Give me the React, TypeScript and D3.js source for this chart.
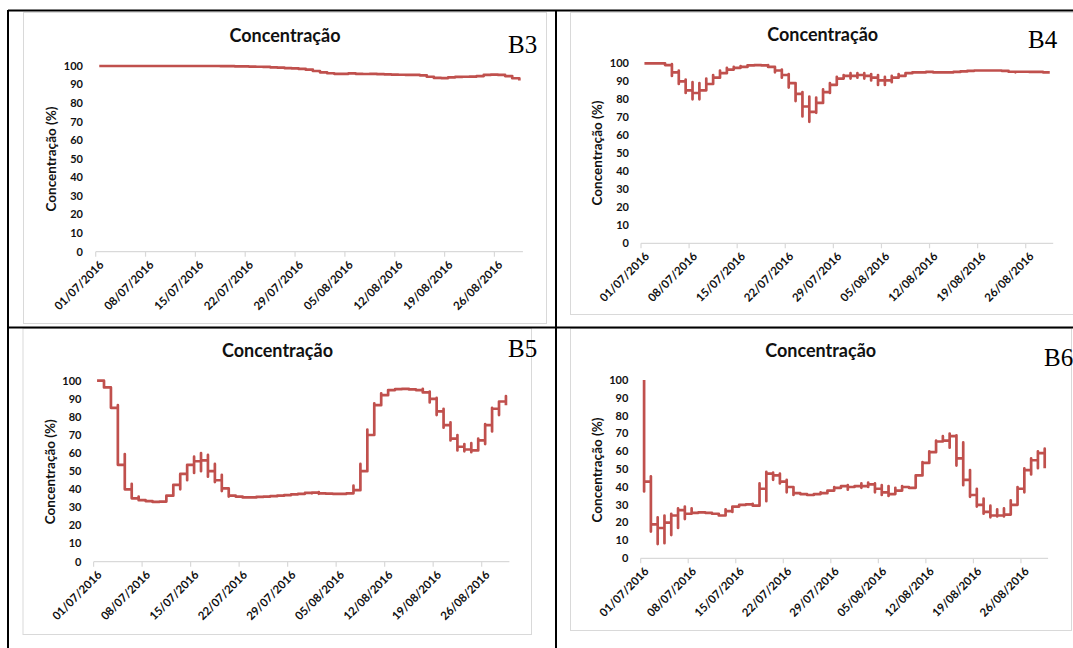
import * as d3 from "d3";

// date axis: weekly tick labels and the axis span (Excel date axis, one slot per day)
const tickLabels = [
  "01/07/2016",
  "08/07/2016",
  "15/07/2016",
  "22/07/2016",
  "29/07/2016",
  "05/08/2016",
  "12/08/2016",
  "19/08/2016",
  "26/08/2016",
];
const axisStart = "01/07/2016";
const axisEnd = "30/08/2016";
const yTicks = [0, 10, 20, 30, 40, 50, 60, 70, 80, 90, 100];

const chartTitle = "Concentração";
const yTitle = "Concentração (%)";

// one entry per day (01/07 ... 29/08); each day lists the readings the line runs
// through on that day, in order (hourly readings all fall on the same date)
const b3Days = [
  [100], [100], [100], [100], [100], [100], [100], [100], [100], [100],
  [100], [100], [100], [100], [100], [100], [100], [99.9], [99.9], [99.8],
  [99.8], [99.7], [99.6], [99.5], [99.3], [99.1], [98.9], [98.7], [98.4], [98.0],
  [97.3], [96.6], [96.1], [95.8], [95.8], [96.0], [95.8], [95.7], [95.8], [95.6],
  [95.5], [95.4], [95.3], [95.2], [95.2], [95.0], [94.2], [93.6], [93.5], [93.9],
  [94.1], [94.2], [94.3], [94.6], [95.2], [95.4], [95.2], [94.6], [93.4], [92.2],
];

const b4Days = [
  [100], [100], [100], [99], [99.5, 93, 95],
  [96, 88.5, 90], [91, 83.5, 85], [89.5, 80, 83.5], [89, 80, 85], [91.5, 85, 88.5],
  [93.5, 89, 92], [96, 94.5], [97.5, 96.5], [98, 97.5], [98.5, 98],
  [98.8], [99], [98.8], [99, 98], [98, 95, 96],
  [96.5, 92, 93.5], [94, 86.5, 89], [89, 79, 83], [84, 70.5, 76], [81.5, 67.5, 73],
  [81, 72.5, 78], [85.5, 78, 84], [89, 83.5, 88], [92.5, 88.5, 91.5], [93.5, 92, 93],
  [94.5, 91.5, 93], [94.5, 92, 93.5], [94.5, 91.5, 93], [94, 90.5, 92], [93.5, 88, 90.5],
  [92.5, 88, 90.5], [93, 89.5, 92], [94, 93], [94.5], [95],
  [95], [95.2], [95], [95], [95],
  [95.2], [95.5], [95.8], [96], [96],
  [96], [96], [95.8], [95.3], [95, 95.3],
  [95.3], [95.2], [95.2], [95], [95],
];

const b5Days = [
  [100], [96.3], [85], [86.5, 53.5], [59.5, 40],
  [43, 35], [36, 34], [33.5], [33], [33.2],
  [36.5], [42.5], [40, 48.5], [45, 53.5], [49, 58, 55.5],
  [50, 60, 56], [59, 47, 50], [54, 44, 45], [48, 39, 40.5], [38.5, 36, 36.5],
  [36], [35.5], [35.5], [35.8], [36],
  [36.2], [36.5], [36.8], [37.2], [37.5],
  [38], [37.8, 38.2], [37.5, 38.5, 37.8], [37.6], [37.5],
  [37.5], [37.8], [42, 39.5], [54, 50], [73, 70],
  [87.5, 86.5], [93, 92], [94.8], [95.3], [95.5],
  [95.2], [94.8], [95.5, 93.5], [94, 88, 90], [90.5, 81, 83],
  [84.5, 74, 75.5], [77, 67, 68], [70, 61.5, 63.5], [65, 61, 62], [65.5, 60.5, 61.5],
  [68, 62, 67], [76, 65, 75.5], [85, 72, 84.5], [88.5, 81, 88.5], [91.5, 86.5],
];

const b6Days = [
  [100, 37.5, 43], [46, 15, 19], [23, 8, 17], [24, 8.5, 20], [25, 13, 24],
  [28, 17, 27], [29, 22, 25], [28, 25.5], [25.8], [25.5],
  [25], [24], [27.5, 26.5], [28.5, 26, 29], [30],
  [30.2], [30.5, 29.5], [42, 39], [32, 48.5, 47.5], [48, 44, 46.5],
  [47.5, 42, 43], [44, 37, 40], [40, 35.5, 36.5], [36], [35.5],
  [36], [37, 36.5], [38], [40, 38.5, 39.5], [40.5],
  [41, 38.5, 40], [40.5], [42, 39.5, 40.5], [42.5, 40, 41.5], [42, 37, 39],
  [41, 35.5, 37], [40.5, 35, 36], [39.5, 36, 38], [40.5, 40], [39.5],
  [46.5], [54, 51.5, 53.5], [60, 57, 59.5], [66, 63, 65.5], [68.5, 66],
  [70, 62, 68.5], [69, 52, 56], [65, 41, 44], [49.5, 34.5, 35.5], [39, 29, 30],
  [33.5, 25, 26], [29.5, 23, 24], [27.5, 23.5, 24], [28, 23.5, 24.5], [32.5, 30],
  [40, 39], [50.5, 37, 49.5], [56, 47, 55], [60, 50.5, 59], [61.5, 50.5],
];

const tags = ["B3", "B4", "B5", "B6"];
const seriesDays = [b3Days, b4Days, b5Days, b6Days];

// layout of the four cells (page pixels)
const layouts = [
  { frame: [23, 12, 546, 323], x0: 95.7, x1: 522.9, yTop: 66, yBottom: 251.7, titleX: 285, titleY: 42, tagX: 508, tagY: 53, yLabelX: 51, yLabelY: 159, tickRight: 83 },
  { frame: [570, 12, 1080, 314], x0: 641, x1: 1053.2, yTop: 63.3, yBottom: 243.3, titleX: 822.7, titleY: 41, tagX: 1028, tagY: 48, yLabelX: 597.7, yLabelY: 153, tickRight: 629 },
  { frame: [22.5, 328, 531, 634], x0: 93.6, x1: 509.4, yTop: 380.7, yBottom: 561.7, titleX: 277.5, titleY: 357, tagX: 508, tagY: 357, yLabelX: 50, yLabelY: 471.7, tickRight: 81.4 },
  { frame: [570, 328, 1071, 630], x0: 640.7, x1: 1048.1, yTop: 380, yBottom: 558.3, titleX: 820.7, titleY: 356.7, tagX: 1044, tagY: 365.7, yLabelX: 597.7, yLabelY: 470, tickRight: 628.3 },
];

const lineColor = "#c0504d";
const axisColor = "#d9d9d9";
const textColor = "#111";
const font = "Lato, 'Open Sans', sans-serif";

const parseDate = d3.timeParse("%d/%m/%Y");

function Panel({ days, tag, lay }: { days: number[][]; tag: string; lay: (typeof layouts)[number] }) {
  const start = parseDate(axisStart) as Date;
  const end = parseDate(axisEnd) as Date;
  const x = d3.scaleTime().domain([start, end]).range([lay.x0, lay.x1]);
  const y = d3.scaleLinear().domain([0, 100]).range([lay.yBottom, lay.yTop]);

  // readings of a day sit in the middle of that day's slot
  const points: [Date, number][] = days.flatMap((vals, i) =>
    vals.map((v) => [d3.timeHour.offset(d3.timeDay.offset(start, i), 12), v] as [Date, number]),
  );
  const line = d3
    .line<[Date, number]>()
    .x((d) => x(d[0]))
    .y((d) => y(d[1]))
    .curve(d3.curveStepAfter);

  const [fx0, fy0, fx1, fy1] = lay.frame;

  return (
    <g fontFamily={font} fill={textColor}>
      <rect x={fx0 + 0.5} y={fy0 + 0.5} width={fx1 - fx0} height={fy1 - fy0} fill="#fff" stroke={axisColor} />
      <text x={lay.titleX} y={lay.titleY} textAnchor="middle" fontSize={18} fontWeight="bold">
        {chartTitle}
      </text>
      <text x={lay.tagX} y={lay.tagY} fontSize={25} fontFamily="'Liberation Serif', 'Times New Roman', serif" fill="#000">
        {tag}
      </text>
      <text
        transform={`translate(${lay.yLabelX},${lay.yLabelY}) rotate(-90)`}
        textAnchor="middle"
        dy="0.35em"
        fontSize={13.5}
        fontWeight="bold"
      >
        {yTitle}
      </text>
      {yTicks.map((t) => (
        <text key={t} x={lay.tickRight} y={y(t)} dy="0.35em" textAnchor="end" fontSize={11} fontWeight="bold">
          {t}
        </text>
      ))}
      <line x1={lay.x0} x2={lay.x1} y1={lay.yBottom} y2={lay.yBottom} stroke={axisColor} strokeWidth={1.2} />
      {tickLabels.map((lbl) => {
        const tx = x(parseDate(lbl) as Date);
        return (
          <g key={lbl}>
            <line x1={tx} x2={tx} y1={lay.yBottom} y2={lay.yBottom + 5} stroke={axisColor} strokeWidth={1.2} />
            <text
              transform={`translate(${tx + 6},${lay.yBottom + 11}) rotate(-45)`}
              textAnchor="end"
              dy="0.35em"
              fontSize={11.5}
              fontWeight="bold"
            >
              {lbl}
            </text>
          </g>
        );
      })}
      <path d={line(points) ?? ""} fill="none" stroke={lineColor} strokeWidth={2.7} strokeLinejoin="round" />
    </g>
  );
}

export default function App() {
  const width = 1073;
  const height = 648;
  return (
    <svg
      width={width}
      height={height}
      style={{ position: "absolute", left: 0, top: 0, background: "#fff" }}
    >
      <rect width={width} height={height} fill="#fff" />
      {layouts.map((lay, i) => (
        <Panel key={tags[i]} days={seriesDays[i]} tag={tags[i]} lay={lay} />
      ))}
      {/* table borders */}
      <g stroke="#000" strokeWidth={2}>
        <line x1={8} x2={width} y1={10.5} y2={10.5} />
        <line x1={8} x2={8} y1={10} y2={height} />
        <line x1={556} x2={556} y1={10} y2={height} />
        <line x1={8} x2={width} y1={327.5} y2={327.5} />
      </g>
    </svg>
  );
}
